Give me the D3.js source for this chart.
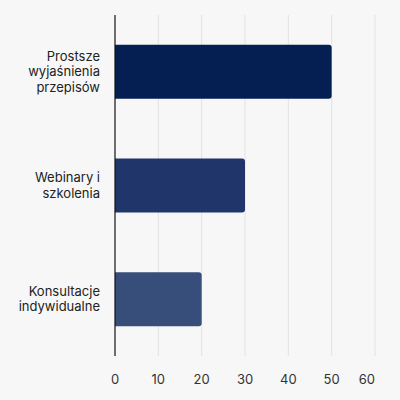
<!DOCTYPE html>
<html>
<head>
<meta charset="utf-8">
<script src="https://cdn.jsdelivr.net/npm/d3@7"></script>
<style>
  html, body { margin: 0; padding: 0; background: #f7f7f7; }
  svg { display: block; font-family: Inter, "Noto Sans", sans-serif; }
</style>
</head>
<body>
<svg id="chart" width="400" height="400"></svg>
<script>
// dane
const categories = ["Prostsze wyjaśnienia przepisów", "Webinary i szkolenia", "Konsultacje indywidualne"];
const labelLines = [["Prostsze", "wyjaśnienia", "przepisów"], ["Webinary i", "szkolenia"], ["Konsultacje", "indywidualne"]];
const values = [50, 30, 20];
const barColors = ["#061f53", "#20366a", "#384e7a"];
const xTicks = [0, 10, 20, 30, 40, 50, 60];

const width = 400, height = 400;
const margin = { top: 15, right: 25, bottom: 44, left: 115 };

const svg = d3.select("#chart");

const x = d3.scaleLinear()
  .domain([0, 60])
  .range([margin.left, width - margin.right]);

const y = d3.scaleBand()
  .domain(categories)
  .range([margin.top, height - margin.bottom])
  .paddingInner(0.525)
  .paddingOuter(0.2625);

// siatka
svg.append("g")
  .selectAll("line")
  .data(xTicks.slice(1))
  .join("line")
  .attr("x1", d => x(d)).attr("x2", d => x(d))
  .attr("y1", margin.top).attr("y2", height - margin.bottom)
  .attr("stroke", "#e2e2e2")
  .attr("stroke-width", 1);

// słupki z zaokrąglonym prawym końcem
const r = 3;
svg.append("g")
  .selectAll("path")
  .data(values)
  .join("path")
  .attr("fill", (d, i) => barColors[i])
  .attr("d", (d, i) => {
    const x0 = x(0), x1 = x(d), y0 = y(categories[i]), h = y.bandwidth();
    return `M${x0},${y0}H${x1 - r}Q${x1},${y0} ${x1},${y0 + r}V${y0 + h - r}Q${x1},${y0 + h} ${x1 - r},${y0 + h}H${x0}Z`;
  });

// oś Y
svg.append("line")
  .attr("x1", x(0)).attr("x2", x(0))
  .attr("y1", margin.top).attr("y2", height - margin.bottom)
  .attr("stroke", "#111")
  .attr("stroke-width", 1.2);

// etykiety kategorii
const lineH = 15.5;
svg.append("g")
  .selectAll("text")
  .data(categories)
  .join("text")
  .attr("text-anchor", "end")
  .attr("fill", "#222")
  .style("font-size", "13px")
  .each(function (d, i) {
    const lines = labelLines[i];
    const cy = y(d) + y.bandwidth() / 2;
    const startY = cy - (lines.length - 1) * lineH / 2;
    d3.select(this).selectAll("tspan")
      .data(lines)
      .join("tspan")
      .attr("x", x(0) - 15)
      .attr("y", (t, j) => startY + j * lineH)
      .attr("dy", "0.35em")
      .text(t => t);
  });

// etykiety osi X
svg.append("g")
  .selectAll("text")
  .data(xTicks)
  .join("text")
  .attr("x", d => x(d))
  .attr("y", height - 21)
  .attr("dy", "0.35em")
  .attr("text-anchor", (d, i) => i === xTicks.length - 1 ? "end" : "middle")
  .attr("fill", "#333")
  .style("font-size", "13px")
  .text(d => d);
</script>
</body>
</html>
